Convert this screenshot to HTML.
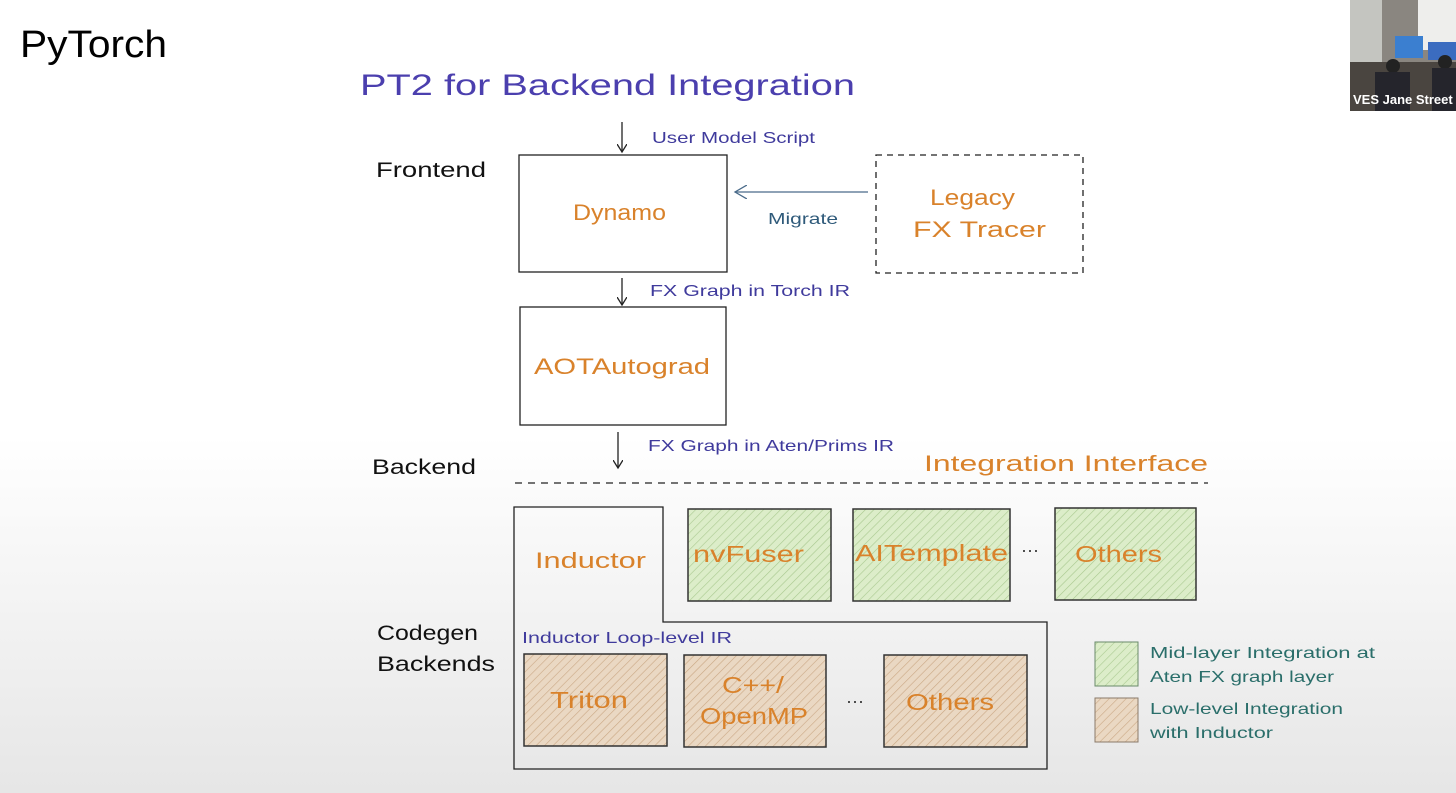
<!DOCTYPE html>
<html><head><meta charset="utf-8"><style>
html,body{margin:0;padding:0;width:1456px;height:793px;overflow:hidden}
body{background:linear-gradient(#ffffff 0%,#ffffff 55%,#e6e6e6 100%);font-family:"Liberation Sans",sans-serif}
svg{position:absolute;left:0;top:0}
</style></head><body>
<svg width="1456" height="793" viewBox="0 0 1456 793">
<defs>
<pattern id="hg" width="6" height="6" patternUnits="userSpaceOnUse" patternTransform="rotate(45)">
<rect width="6" height="6" fill="#dcedc9"/><line x1="0" y1="0" x2="0" y2="6" stroke="#a9c98f" stroke-width="1.2"/></pattern>
<pattern id="ho" width="6" height="6" patternUnits="userSpaceOnUse" patternTransform="rotate(45)">
<rect width="6" height="6" fill="#ead8c3"/><line x1="0" y1="0" x2="0" y2="6" stroke="#caa784" stroke-width="1.2"/></pattern>
<marker id="ah" markerWidth="10" markerHeight="10" refX="8" refY="5" orient="auto" markerUnits="userSpaceOnUse"><path d="M0,0 L8,5 L0,10" fill="none" stroke="#222" stroke-width="1.3"/></marker>
<marker id="ab" markerWidth="14" markerHeight="14" refX="12" refY="7" orient="auto" markerUnits="userSpaceOnUse"><path d="M0,0 L12,7 L0,14" fill="none" stroke="#4a6b8a" stroke-width="1.3"/></marker>
</defs>
<text x="20" y="57" font-size="38" fill="#000" textLength="147" lengthAdjust="spacingAndGlyphs">PyTorch</text>
<rect x="1350" y="0" width="106" height="111" fill="#8a8680"/>
<rect x="1350" y="0" width="32" height="75" fill="#c4c5c0"/>
<rect x="1418" y="0" width="38" height="50" fill="#eeeeec"/>
<rect x="1395" y="36" width="28" height="22" fill="#3b7fd0"/>
<rect x="1428" y="42" width="28" height="18" fill="#3b6cc0"/>
<rect x="1350" y="62" width="106" height="49" fill="#4a4540"/>
<circle cx="1393" cy="66" r="7" fill="#222"/><circle cx="1445" cy="62" r="7" fill="#222"/>
<rect x="1375" y="72" width="35" height="39" fill="#25252c"/><rect x="1432" y="68" width="24" height="43" fill="#25252c"/>
<text x="1353" y="104" font-size="13" font-weight="bold" fill="#fff">VES Jane Street</text>

<text x="360" y="95" font-size="30" fill="#4b3fae" textLength="495" lengthAdjust="spacingAndGlyphs">PT2 for Backend Integration</text>
<g font-size="21" fill="#111">
<text x="376" y="177" textLength="110" lengthAdjust="spacingAndGlyphs">Frontend</text>
<text x="372" y="474" textLength="104" lengthAdjust="spacingAndGlyphs">Backend</text>
<text x="377" y="640" textLength="101" lengthAdjust="spacingAndGlyphs">Codegen</text>
<text x="377" y="671" textLength="118" lengthAdjust="spacingAndGlyphs">Backends</text>
</g>
<g stroke="#222" stroke-width="1.3" fill="none">
<line x1="622" y1="122" x2="622" y2="152" marker-end="url(#ah)"/>
<line x1="622" y1="278" x2="622" y2="305" marker-end="url(#ah)"/>
<line x1="618" y1="432" x2="618" y2="468" marker-end="url(#ah)"/>
<rect x="519" y="155" width="208" height="117"/>
<rect x="520" y="307" width="206" height="118"/>
<rect x="876" y="155" width="207" height="118" stroke-dasharray="6,5"/>
<line x1="515" y1="483" x2="1208" y2="483" stroke-dasharray="7,6"/>
<path d="M514,507 H663 V622 H1047 V769 H514 Z"/>
</g>
<line x1="868" y1="192" x2="735" y2="192" stroke="#4a6b8a" stroke-width="1.3" marker-end="url(#ab)"/>
<g font-size="16" fill="#3f3a9c">
<text x="652" y="143" textLength="163" lengthAdjust="spacingAndGlyphs">User Model Script</text>
<text x="650" y="296" textLength="200" lengthAdjust="spacingAndGlyphs">FX Graph in Torch IR</text>
<text x="648" y="451" textLength="246" lengthAdjust="spacingAndGlyphs">FX Graph in Aten/Prims IR</text>
<text x="522" y="643" textLength="210" lengthAdjust="spacingAndGlyphs">Inductor Loop-level IR</text>
</g>
<text x="768" y="224" font-size="16" fill="#2f5a7a" textLength="70" lengthAdjust="spacingAndGlyphs">Migrate</text>
<g fill="#d9822b" font-size="22">
<text x="573" y="220" textLength="93" lengthAdjust="spacingAndGlyphs">Dynamo</text>
<text x="534" y="374" textLength="176" lengthAdjust="spacingAndGlyphs">AOTAutograd</text>
<text x="930" y="205" textLength="85" lengthAdjust="spacingAndGlyphs">Legacy</text>
<text x="913" y="237" textLength="133" lengthAdjust="spacingAndGlyphs">FX Tracer</text>
<text x="535" y="568" textLength="111" lengthAdjust="spacingAndGlyphs">Inductor</text>
<text x="924" y="471" textLength="284" lengthAdjust="spacingAndGlyphs">Integration Interface</text>
</g>
<g stroke="#333" stroke-width="1.5">
<rect x="688" y="509" width="143" height="92" fill="url(#hg)"/>
<rect x="853" y="509" width="157" height="92" fill="url(#hg)"/>
<rect x="1055" y="508" width="141" height="92" fill="url(#hg)"/>
<rect x="524" y="654" width="143" height="92" fill="url(#ho)"/>
<rect x="684" y="655" width="142" height="92" fill="url(#ho)"/>
<rect x="884" y="655" width="143" height="92" fill="url(#ho)"/>
<rect x="1095" y="642" width="43" height="44" fill="url(#hg)" stroke="#6a8a6a" stroke-width="1"/>
<rect x="1095" y="698" width="43" height="44" fill="url(#ho)" stroke="#8a7a6a" stroke-width="1"/>
</g>
<g fill="#d9822b" font-size="23">
<text x="693" y="562" textLength="111" lengthAdjust="spacingAndGlyphs">nvFuser</text>
<text x="855" y="561" textLength="153" lengthAdjust="spacingAndGlyphs">AITemplate</text>
<text x="1075" y="562" textLength="87" lengthAdjust="spacingAndGlyphs">Others</text>
<text x="550" y="708" textLength="78" lengthAdjust="spacingAndGlyphs">Triton</text>
<text x="722" y="693" textLength="62" lengthAdjust="spacingAndGlyphs">C++/</text>
<text x="700" y="724" textLength="108" lengthAdjust="spacingAndGlyphs">OpenMP</text>
<text x="906" y="710" textLength="88" lengthAdjust="spacingAndGlyphs">Others</text>
</g>
<g fill="#333" font-size="18"><text x="1021" y="556">···</text><text x="846" y="707">···</text></g>
<g font-size="16" fill="#2a6e6a">
<text x="1150" y="658" textLength="225" lengthAdjust="spacingAndGlyphs">Mid-layer Integration at</text>
<text x="1150" y="682" textLength="184" lengthAdjust="spacingAndGlyphs">Aten FX graph layer</text>
<text x="1150" y="714" textLength="193" lengthAdjust="spacingAndGlyphs">Low-level Integration</text>
<text x="1150" y="738" textLength="123" lengthAdjust="spacingAndGlyphs">with Inductor</text>
</g>
</svg>
</body></html>
